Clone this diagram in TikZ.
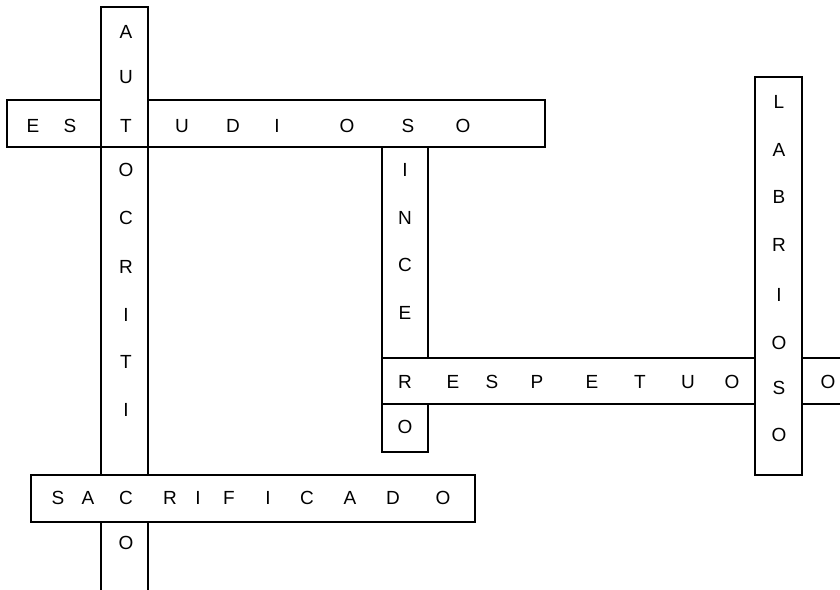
\documentclass[tikz,border=0pt]{standalone}
\usepackage{fontspec}
\setmainfont{Liberation Sans}
\usepackage{tikz}
\usetikzlibrary{positioning}

\begin{document}
\begin{tikzpicture}[
    x=1pt,
    y=-1pt,
    font=\fontsize{19}{22}\selectfont,
    cell/.style={draw=black, fill=white, line width=1.5pt},
    letter/.style={inner sep=0pt, anchor=center}
  ]
    \useasboundingbox (0,0) rectangle (840,589);
    \clip (0,0) rectangle (840,589);

    % horizontal: ESTUDIOSO
    \filldraw[cell] (7,100) rectangle (545,147);
    % vertical: AUTOCRITICO
    \filldraw[cell] (101,7) rectangle (148,147);
    \filldraw[cell] (101,147) rectangle (148,600);
    % horizontal: SACRIFICADO
    \filldraw[cell] (31,475) rectangle (475,522);
    % vertical: INCERO
    \filldraw[cell] (382,147) rectangle (428,452);
    % horizontal: RESPETUOSO
    \filldraw[cell] (382,358) rectangle (860,404);
    % vertical: LABRIOSO
    \filldraw[cell] (755,77) rectangle (802,475);

    \foreach \ch/\py [count=\i] in {A/32, U/77, T/126, O/170, C/218, R/267, I/315, T/362, I/410, C/498, O/543}
      \node[letter] (auto\i) at (126,\py) {\ch};
    \foreach \ch/\px [count=\i] in {E/33, S/70, U/182, D/233, I/277, O/347, S/408, O/463}
      \node[letter] (estu\i) at (\px,126) {\ch};
    \foreach \ch/\py [count=\i] in {I/170, N/218, C/265, E/313, R/382, O/427}
      \node[letter] (ince\i) at (405,\py) {\ch};
    \foreach \ch/\px [count=\i] in {E/453, S/492, P/537, E/592, T/640, U/688, O/732, O/828}
      \node[letter] (resp\i) at (\px,382) {\ch};
    \foreach \ch/\py [count=\i] in {L/102, A/150, B/197, R/245, I/295, O/343, S/388, O/435}
      \node[letter] (labr\i) at (779,\py) {\ch};
    \foreach \ch/\px [count=\i] in {S/58, A/88, R/170, I/198, F/229, I/268, C/307, A/350, D/393, O/443}
      \node[letter] (sacr\i) at (\px,498) {\ch};
  \end{tikzpicture}
\end{document}
